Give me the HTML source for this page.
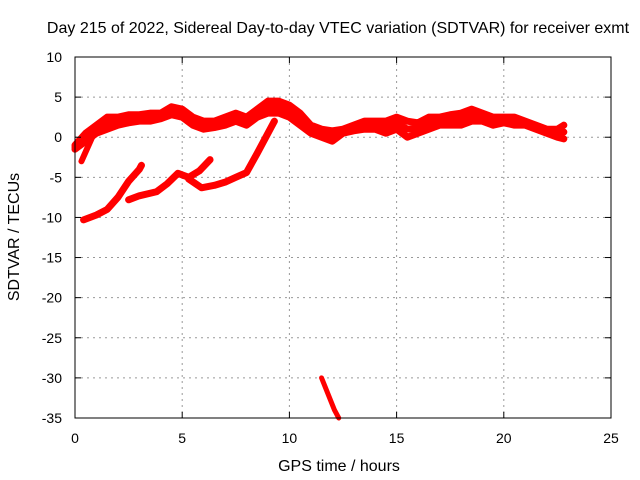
<!DOCTYPE html>
<html><head><meta charset="utf-8"><style>body{margin:0;background:#fff}svg{display:block;font-family:"Liberation Sans",sans-serif}</style></head>
<body>
<svg id="chart" width="640" height="480">
<text x="338" y="33" text-anchor="middle" font-size="16">Day 215 of 2022, Sidereal Day-to-day VTEC variation (SDTVAR) for receiver exmt</text>
<text x="339" y="471" text-anchor="middle" font-size="16">GPS time / hours</text>
<text transform="translate(19,237) rotate(-90)" text-anchor="middle" font-size="16">SDTVAR / TECUs</text>
<g id="grid"></g><g id="series"></g><g id="axes"></g>
</svg>
<script>
const xTicks=[0,5,10,15,20,25];
const yTicks=[10,5,0,-5,-10,-15,-20,-25,-30,-35];
const bandT=[0,0.5,1,1.5,2,2.5,3,3.5,4,4.5,5,5.5,6,6.5,7,7.5,8,8.5,9,9.5,10,10.5,11,11.5,12,12.5,13,13.5,14,14.5,15,15.5,16,16.5,17,17.5,18,18.5,19,19.5,20,20.5,21,21.5,22,22.5,22.8];
const bandUpper=[-1,0.5,1.5,2.5,2.5,2.8,2.8,3,3,3.8,3.5,2.5,2,2,2.5,3,2.5,3.5,4.5,4.5,4,3,1.5,1,0.8,1,1.5,2,2,2,2.5,2,1.8,2.5,2.5,2.8,3,3.5,3,2.5,2.5,2.5,2,1.5,1,1,1.5];
const bandLower=[-1.5,-0.5,0.5,1,1.5,1.8,2,2,2.3,2.8,2.5,1.5,1,1.2,1.5,2,1.5,2.5,3,3,2.5,1.5,0.5,0,-0.5,0.5,0.8,1,1,0.5,1,0,0.5,1,1.5,1.5,1.5,2,2,1.5,1.8,1.5,1.5,1,0.5,0,-0.2];
const branchT=[0.3,0.55,0.8], branchV=[-3,-1.5,0];
const bT=[0.4,1,1.5,2,2.5,3,3.1], bV=[-10.3,-9.7,-9,-7.5,-5.5,-4,-3.5];
const cT=[2.5,3,3.8,4.3,4.8,5.3], cV=[-7.8,-7.3,-6.8,-5.8,-4.5,-5];
const dT=[5.3,5.8,6.3], dV=[-5,-4.2,-2.8];
const eT=[5.3,5.9,6.5,7,7.5,8,8.5,9,9.3], eV=[-5.2,-6.3,-6,-5.6,-5,-4.4,-2,0.5,2];
const fT=[11.5,11.8,12.1,12.3], fV=[-30,-32,-34,-35];
const X=t=>75+t*21.44, Y=v=>57+(10-v)*8.022;
const NS="http://www.w3.org/2000/svg";
function mk(tag,attrs,parent){const e=document.createElementNS(NS,tag);for(const k in attrs)e.setAttribute(k,attrs[k]);document.getElementById(parent).appendChild(e);return e;}
xTicks.forEach(t=>{
 if(t>0&&t<25){const g=mk('line',{x1:X(t),x2:X(t),y1:57,y2:418,stroke:'#999','stroke-dasharray':'2,4'},'grid');
 
 }
 const l=mk('text',{x:X(t),y:443,'text-anchor':'middle','font-size':14},'axes');l.textContent=t;
 
 
 mk('line',{x1:X(t),x2:X(t),y1:418,y2:412,stroke:'#000'},'axes');
 mk('line',{x1:X(t),x2:X(t),y1:57,y2:63,stroke:'#000'},'axes');
});
yTicks.forEach(v=>{
 if(v<10&&v>-35){const g=mk('line',{x1:75,x2:611,y1:Y(v),y2:Y(v),stroke:'#999','stroke-dasharray':'2,4'},'grid');
 
 }
 const l=mk('text',{x:62,y:Y(v)+5,'text-anchor':'end','font-size':14},'axes');l.textContent=v;
 
 
 mk('line',{x1:75,x2:81,y1:Y(v),y2:Y(v),stroke:'#000'},'axes');
 mk('line',{x1:611,x2:605,y1:Y(v),y2:Y(v),stroke:'#000'},'axes');
});
const frame=mk('rect',{x:75,y:57,width:536,height:361,fill:'none',stroke:'#000'},'axes');


function line(ts,vs,name,w){const p=mk('polyline',{points:ts.map((t,i)=>X(t)+','+Y(vs[i])).join(' '),fill:'none',stroke:'#f00','stroke-width':w,'stroke-linejoin':'round','stroke-linecap':'round'},'series');
 
 }
line(bandT,bandUpper,'band-upper',7);
line(bandT,bandLower,'band-lower',7);
line(bandT,bandUpper.map((u,i)=>(u+bandLower[i])/2),'band-mid',7);
line(branchT,branchV,'branch-early',6);
line(bT,bV,'series-b',7);
line(cT,cV,'series-c',7);
line(dT,dV,'series-d',7);
line(eT,eV,'series-e',7);
line(fT,fV,'series-f',5);
</script>
</body></html>
